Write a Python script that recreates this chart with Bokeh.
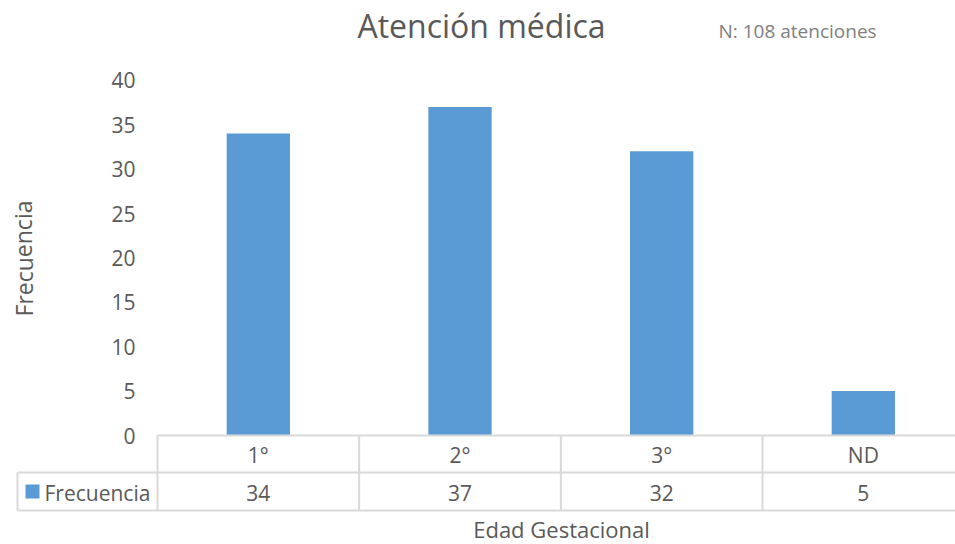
from bokeh.plotting import figure
from bokeh.models import Range1d
from bokeh.core.properties import value
from bokeh.embed import file_html
from bokeh.resources import INLINE

# ---- data ----
categories = ["1°", "2°", "3°", "ND"]
frecuencia = [34, 37, 32, 5]
y_ticks = [0, 5, 10, 15, 20, 25, 30, 35, 40]
title_text = "Atención médica"
note_text = "N: 108 atenciones"
x_title = "Edad Gestacional"
y_title = "Frecuencia"
series_name = "Frecuencia"

# ---- layout (page pixels) ----
W, H = 955, 544
OX, OY = 0, 0
X0, CW = 157, 201.67      # page x of category axis start, category width
Y0, YS = 435, 8.88        # page y of value 0, px per unit
FONT = value("Open Sans")
TXT = "#595959"
GRID = "#d9d9d9"
BAR = "#5B9BD5"


def X(px):
    return (px - X0) / CW


def Y(py):
    return (Y0 - py) / YS


p = figure(width=W, height=H, output_backend="svg", toolbar_location=None,
           x_range=Range1d(X(OX), X(OX + W)), y_range=Range1d(Y(OY + H), Y(OY)),
           x_axis_type=None, y_axis_type=None, min_border=0,
           outline_line_color=None, background_fill_color="white",
           border_fill_color="white")
p.grid.visible = False

xc = [i + 0.5 for i in range(len(categories))]

# bars
p.vbar(x=xc, top=frecuencia, bottom=0, width=0.314, fill_color=BAR, line_color=None)

# y tick labels
p.text(x=[X(135)] * len(y_ticks), y=y_ticks, text=[str(t) for t in y_ticks],
       text_font=FONT, text_font_size="21px", text_color=TXT,
       text_align="right", text_baseline="middle")

# data table lines
right = X(990)
ncat = len(categories)
hx0 = [0, X(17), X(17)]
hx1 = [right, right, right]
hy = [0, Y(472), Y(510)]
p.segment(x0=hx0, y0=hy, x1=hx1, y1=hy, line_color=GRID, line_width=2)
vx = [i for i in range(ncat + 1)]
p.segment(x0=vx, y0=[0] * len(vx), x1=vx, y1=[Y(510)] * len(vx), line_color=GRID, line_width=2)
p.segment(x0=[X(17)], y0=[Y(472)], x1=[X(17)], y1=[Y(510)], line_color=GRID, line_width=2)

# table texts
p.text(x=xc, y=[Y(454)] * ncat, text=categories, text_font=FONT, text_font_size="21px",
       text_color=TXT, text_align="center", text_baseline="middle")
p.text(x=xc, y=[Y(492)] * ncat, text=[str(v) for v in frecuencia], text_font=FONT,
       text_font_size="21px", text_color=TXT, text_align="center", text_baseline="middle")

# legend key
p.quad(left=[X(25)], right=[X(39)], bottom=[Y(498)], top=[Y(484)], fill_color=BAR, line_color=None)
p.text(x=[X(44)], y=[Y(492)], text=[series_name], text_font=FONT, text_font_size="21px",
       text_color=TXT, text_align="left", text_baseline="middle")

# titles
p.text(x=[X(481)], y=[Y(25)], text=[title_text], text_font=FONT, text_font_size="32px",
       text_color=TXT, text_align="center", text_baseline="middle")
p.text(x=[X(718)], y=[Y(30)], text=[note_text], text_font=FONT, text_font_size="19px",
       text_color="#808080", text_align="left", text_baseline="middle")
p.text(x=[X(561)], y=[Y(528)], text=[x_title], text_font=FONT, text_font_size="22px",
       text_color=TXT, text_align="center", text_baseline="middle")
p.text(x=[X(23)], y=[Y(258)], text=[y_title], text_font=FONT, text_font_size="23px",
       text_color=TXT, text_align="center", text_baseline="middle", angle=1.5708)

open("out.html", "w").write(file_html(p, INLINE))
